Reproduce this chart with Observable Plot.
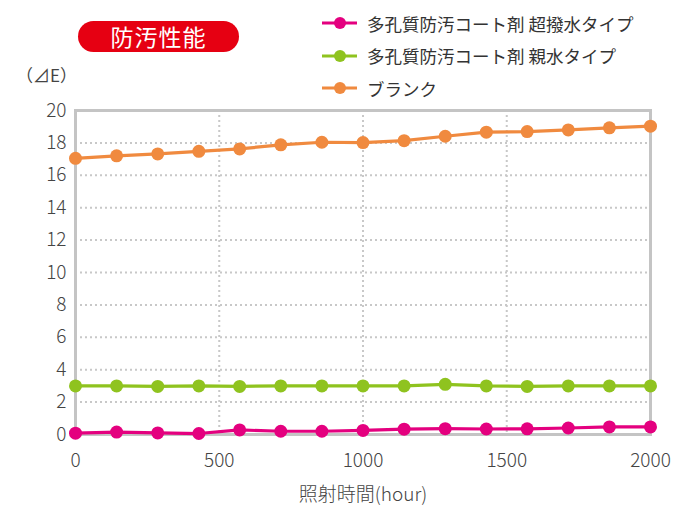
<!DOCTYPE html>
<html>
<head>
<meta charset="utf-8">
<script src="https://cdn.jsdelivr.net/npm/d3@7"></script>
<script src="https://cdn.jsdelivr.net/npm/@observablehq/plot@0.6"></script>
<style>
  html, body { margin: 0; padding: 0; background: #fff; }
  body { width: 690px; height: 520px; position: relative; overflow: hidden;
         font-family: "Noto Sans CJK JP", "Noto Sans", sans-serif; color: #333; }
  #chart { position: absolute; left: 0; top: 0; }
  .badge { position: absolute; left: 78px; top: 21px; width: 161px; height: 31px;
           background: #e60012; border-radius: 16px; color: #fff; font-size: 23px;
           line-height: 31px; text-align: center; letter-spacing: 1px; }
  .ylab { position: absolute; left: 16px; top: 62px; font-size: 17px; color: #444; }
  .legend { position: absolute; left: 322px; top: 7px; }
  .legend .row { height: 32.5px; display: flex; align-items: center; font-size: 17.5px; color: #333; }
  .legend svg { margin-right: 10px; }
</style>
</head>
<body>
<div id="chart"></div>
<div class="badge">防汚性能</div>
<div class="ylab">（⊿E）</div>
<div class="legend" id="legend"></div>
<script>
const hours = [0, 143, 286, 429, 571, 714, 857, 1000, 1143, 1286, 1429, 1571, 1714, 1857, 2000];
const superHydrophobic = [0.08, 0.15, 0.1, 0.06, 0.28, 0.2, 0.2, 0.25, 0.33, 0.36, 0.34, 0.35, 0.4, 0.47, 0.47];
const hydrophilic = [3.0, 3.0, 2.97, 3.0, 2.97, 3.0, 3.0, 3.0, 3.0, 3.1, 3.0, 2.97, 3.0, 3.0, 3.0];
const blank = [17.05, 17.2, 17.32, 17.48, 17.63, 17.88, 18.04, 18.02, 18.14, 18.41, 18.66, 18.7, 18.8, 18.93, 19.03];
const seriesNames = ["多孔質防汚コート剤 超撥水タイプ", "多孔質防汚コート剤 親水タイプ", "ブランク"];
const seriesColors = ["#e4007f", "#8fc31f", "#f08a3f"];
const yTicks = [0, 2, 4, 6, 8, 10, 12, 14, 16, 18, 20];
const xTicks = [0, 500, 1000, 1500, 2000];

const seriesValues = [superHydrophobic, hydrophilic, blank];
const data = [];
seriesValues.forEach((vals, si) => vals.forEach((v, i) => data.push({series: seriesNames[si], hour: hours[i], value: v})));
// draw blank first so the coated series sit on top
const order = [2, 1, 0];

const marks = [
  Plot.gridY(yTicks.slice(1, -1), {stroke: "#c8c8c8", strokeOpacity: 1, strokeWidth: 2, strokeDasharray: "2,3"}),
  Plot.gridX([500, 1000, 1500], {stroke: "#c8c8c8", strokeOpacity: 1, strokeWidth: 2, strokeDasharray: "2,3"}),
  Plot.frame({stroke: "#c4c4c4", strokeWidth: 3}),
  Plot.axisY({ticks: yTicks, tickSize: 0, tickPadding: 9, fontSize: 19, label: null, tickFormat: d => String(d)}),
  Plot.axisX({ticks: xTicks, tickSize: 0, tickPadding: 19, fontSize: 19, label: "照射時間(hour)", labelAnchor: "center", labelArrow: "none", labelOffset: 66, tickFormat: d => String(d)})
];
for (const si of order) {
  const d = data.filter(r => r.series === seriesNames[si]);
  marks.push(Plot.line(d, {x: "hour", y: "value", stroke: seriesColors[si], strokeWidth: 3.2}));
  marks.push(Plot.dot(d, {x: "hour", y: "value", fill: seriesColors[si], r: 6.5, stroke: "none"}));
}

const chart = Plot.plot({
  width: 690,
  height: 520,
  marginLeft: 75,
  marginRight: 40,
  marginTop: 110,
  marginBottom: 86,
  x: {domain: [0, 2000]},
  y: {domain: [0, 20]},
  style: {fontFamily: "'Noto Sans CJK JP', 'Noto Sans', sans-serif", fontSize: "17px", color: "#444", fontWeight: 300},
  marks
});
document.getElementById("chart").append(chart);

const legend = document.getElementById("legend");
seriesNames.forEach((name, i) => {
  const row = document.createElement("div");
  row.className = "row";
  row.innerHTML = `<svg width="35" height="14"><line x1="0" x2="35" y1="7" y2="7" stroke="${seriesColors[i]}" stroke-width="3"/><circle cx="18" cy="7" r="6" fill="${seriesColors[i]}"/></svg><span>${name}</span>`;
  legend.append(row);
});
</script>
</body>
</html>
